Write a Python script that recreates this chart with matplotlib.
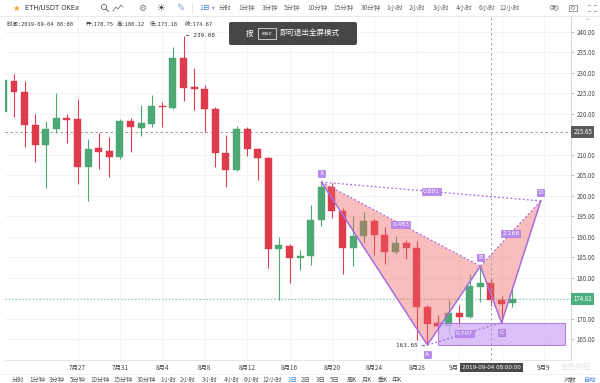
import matplotlib
matplotlib.use('Agg')
import matplotlib.pyplot as plt
from matplotlib.patches import Rectangle, FancyBboxPatch, Circle
from matplotlib.transforms import blended_transform_factory

plt.rcParams['font.family'] = ['Noto Sans CJK SC', 'DejaVu Sans']

# ---------------- data ----------------
day_labels = ['7月27', '7月31', '8月4', '8月8', '8月12', '8月16', '8月20', '8月24', '8月28', '9月9']
day_label_idx = [7, 11, 15, 19, 23, 27, 31, 35, 39, 51]
month_label, month_idx = '9月', 43
extra_grid_idx = [43, 47]

opens = [220.5, 228.1, 225.3, 217.4, 212.4, 216.3, 219.1, 218.7, 207.1, 211.8,
         210.9, 209.4, 218.4, 216.7, 217.6, 222.0, 221.5, 233.6, 226.5, 226.0,
         221.3, 210.4, 206.3, 216.3, 211.5, 209.2, 187.0, 187.9, 184.8, 185.4,
         194.1, 202.1, 196.4, 187.4, 190.2, 193.9, 190.6, 186.4, 188.5, 187.2,
         173.0, 169.0, 168.4, 171.5, 170.6, 177.9, 178.75, 174.6, 173.9]
highs = [229.5, 229.8, 228.1, 220.0, 218.3, 225.0, 220.0, 223.6, 213.8, 215.4,
         214.3, 218.7, 219.1, 222.2, 224.6, 223.0, 236.3, 239.08, 231.1, 227.1,
         221.6, 214.9, 217.1, 216.9, 211.6, 209.5, 190.0, 188.2, 186.8, 197.8,
         203.4, 203.1, 197.0, 195.0, 196.2, 194.5, 192.5, 190.2, 189.3, 189.1,
         173.3, 171.0, 174.6, 173.4, 180.9, 182.9, 180.12, 175.6, 177.9]
lows = [219.8, 219.3, 212.0, 208.4, 201.9, 215.4, 212.9, 202.9, 198.9, 206.5,
        204.6, 209.0, 210.8, 214.6, 216.8, 216.9, 221.3, 223.2, 221.0, 215.5,
        207.1, 202.3, 206.0, 209.8, 203.9, 182.4, 174.6, 178.7, 182.0, 183.2,
        192.7, 194.6, 181.0, 182.9, 188.5, 185.6, 183.5, 185.9, 184.6, 164.9,
        163.65, 166.5, 166.0, 168.1, 170.3, 174.1, 173.18, 169.1, 173.0]
closes = [228.3, 225.3, 217.4, 212.4, 216.3, 219.0, 218.6, 207.1, 211.5, 210.8,
          209.4, 218.4, 216.8, 217.7, 222.0, 221.6, 233.6, 226.3, 226.1, 221.2,
          210.4, 206.3, 216.3, 211.5, 209.2, 187.0, 188.0, 184.8, 185.4, 194.1,
          202.1, 196.4, 187.4, 190.2, 193.9, 190.5, 186.4, 188.5, 187.2, 173.0,
          168.8, 168.4, 171.4, 170.6, 178.0, 178.7, 174.67, 173.7, 174.82]

pattern_names = ['X', 'A', 'B', 'C', 'D']
pattern_idx = [30, 40, 45, 47, 50.7]
pattern_price = [203.4, 163.65, 182.9, 169.1, 198.8]
ratio_pairs = [(0, 2), (1, 3), (2, 4), (0, 4)]
ratio_values = ['0.483', '0.707', '2.168', '0.881']

zone_idx = [41, 53]
zone_price = [163.65, 169.1]

price_ticks = [165, 170, 180, 185, 190, 195, 200, 205, 210, 220, 225, 230, 235, 240]
grid_prices = list(range(165, 241, 5))

crosshair_idx = 46
crosshair_price = 215.65
last_price = 174.82
max_idx, max_price = 17, 239.08
min_idx, min_price = 40, 163.65

info_parts = ['时间:2019-09-04 08:00', '开:178.75', '高:180.12', '低:173.18', '收:174.67']
top_periods = ['分时', '1分钟', '3分钟', '5分钟', '10分钟', '15分钟', '30分钟',
               '1小时', '2小时', '3小时', '4小时', '6小时', '12小时']
bottom_periods = ['分时', '1分钟', '3分钟', '5分钟', '10分钟', '15分钟', '30分钟',
                  '1小时', '2小时', '3小时', '4小时', '6小时', '12小时',
                  '1日', '2日', '3日', '5日', '周K', '月K', '季K', '年K']

# ---------------- styles ----------------
RED = '#de3b4d'
GREEN = '#4da876'
PURPLE = '#a56ddf'
LABEL_BG = '#b889ec'

W, H = 600, 383
fig = plt.figure(figsize=(6, 3.83), dpi=100)
fig.patch.set_facecolor('white')

ax = fig.add_axes([5 / W, 23 / H, 566 / W, 344 / H])
ax.set_xlim(0.151, 53.55)
ax.set_ylim(160.0, 243.9)
ax.set_facecolor('white')

for s in ['top', 'left']:
    ax.spines[s].set_visible(False)
ax.spines['right'].set_color('#cfcfcf')
ax.spines['right'].set_linewidth(0.6)
ax.spines['bottom'].set_color('#e2e2e2')
ax.spines['bottom'].set_linewidth(0.6)

# grid
for p in grid_prices:
    ax.axhline(p, color='#f1f1f1', lw=0.6, zorder=0)
for i in day_label_idx + extra_grid_idx:
    ax.axvline(i, color='#f1f1f1', lw=0.6, zorder=0)

# ticks
ax.yaxis.tick_right()
ax.set_yticks(price_ticks)
ax.set_yticklabels([f'{p:.2f}' for p in price_ticks])
ax.tick_params(axis='y', length=2.5, width=0.5, color='#aaaaaa', labelsize=4.4,
               labelcolor='#444444', pad=1.5)
ax.set_xticks(day_label_idx)
ax.set_xticklabels(day_labels)
ax.tick_params(axis='x', length=0, labelsize=4.6, labelcolor='#444444', pad=3)

bx = blended_transform_factory(ax.transData, ax.transAxes)
ax.text(month_idx - 0.05, -0.0225, month_label, transform=bx, fontsize=4.6,
        color='#444444', ha='right', va='center', clip_on=False)

# candles
for i, (o, h, l, c) in enumerate(zip(opens, highs, lows, closes)):
    col = GREEN if c >= o else RED
    ax.vlines(i, l, h, color=col, lw=0.8, zorder=2)
    bottom = min(o, c)
    height = max(abs(c - o), 0.3)
    ax.bar(i, height, bottom=bottom, width=0.66, color=col, edgecolor=col,
           lw=0.3, zorder=2.5)

# horizontal reference lines
ax.axhline(crosshair_price, color='#8a8a8a', lw=0.6, ls=(0, (3, 3)), zorder=1.5)
ax.axhline(last_price, color='#86c9a4', lw=0.7, ls=(0, (1.5, 2)), zorder=1.5)
ax.axvline(crosshair_idx, color='#9a9a9a', lw=0.6, ls=(0, (3, 3)), zorder=6)

# harmonic pattern fills
ax.fill([pattern_idx[i] for i in (0, 1, 2)], [pattern_price[i] for i in (0, 1, 2)],
        color='#f06262', alpha=0.42, lw=0, zorder=3)
ax.fill([pattern_idx[i] for i in (2, 3, 4)], [pattern_price[i] for i in (2, 3, 4)],
        color='#f06262', alpha=0.42, lw=0, zorder=3)

# zone rectangle
ax.add_patch(Rectangle((zone_idx[0], zone_price[0]), zone_idx[1] - zone_idx[0],
                       zone_price[1] - zone_price[0], facecolor='#d2b0f6',
                       edgecolor=PURPLE, lw=0.8, alpha=0.8, zorder=3.2))

# solid legs
ax.plot(pattern_idx, pattern_price, color=PURPLE, lw=1.1, zorder=4,
        solid_joinstyle='miter')
# dotted ratio lines
for (a, b), val in zip(ratio_pairs, ratio_values):
    ax.plot([pattern_idx[a], pattern_idx[b]], [pattern_price[a], pattern_price[b]],
            color=PURPLE, lw=0.9, ls=(0, (1.5, 1.8)), zorder=4)
    mx = (pattern_idx[a] + pattern_idx[b]) / 2
    my = (pattern_price[a] + pattern_price[b]) / 2
    ax.text(mx, my, val, fontsize=4.3, color='white', ha='center', va='center',
            family=['DejaVu Sans'], zorder=7,
            bbox=dict(boxstyle='square,pad=0.18', fc=LABEL_BG, ec=PURPLE, lw=0.4))

# point labels
offsets = {'X': 6, 'A': -7, 'B': 6, 'C': -7, 'D': 6}
for n, xi, pr in zip(pattern_names, pattern_idx, pattern_price):
    ax.annotate(n, (xi, pr), xytext=(0, offsets[n]), textcoords='offset points',
                fontsize=4.3, color='white', ha='center', va='center',
                family=['DejaVu Sans'], zorder=7,
                bbox=dict(boxstyle='square,pad=0.18', fc=LABEL_BG, ec=PURPLE, lw=0.4))

# max / min annotations
ax.annotate(f'← {max_price:.2f}', (max_idx, max_price), xytext=(1.5, 0),
            textcoords='offset points', fontsize=4.3, color='#333333',
            ha='left', va='center', family=['DejaVu Sans Mono'], zorder=7)
ax.annotate(f'{min_price:.2f} →', (min_idx, min_price), xytext=(-2, 0),
            textcoords='offset points', fontsize=4.3, color='#333333',
            ha='right', va='center', family=['DejaVu Sans Mono'], zorder=7)

# right price boxes
bt = blended_transform_factory(ax.transAxes, ax.transData)
ax.text(1.004, crosshair_price, f'{crosshair_price:.2f}', transform=bt, fontsize=4.4,
        color='white', ha='left', va='center', clip_on=False, zorder=8,
        bbox=dict(boxstyle='square,pad=0.35', fc='#5b5b5b', ec='none'))
ax.text(1.004, last_price, f'{last_price:.2f}', transform=bt, fontsize=4.4,
        color='white', ha='left', va='center', clip_on=False, zorder=8,
        bbox=dict(boxstyle='square,pad=0.35', fc='#4caf7d', ec='none'))

# date box on crosshair
ax.text(crosshair_idx + 0.05, -0.022, '2019-09-04 08:00:00', transform=bx, fontsize=4.1,
        color='white', ha='center', va='center', clip_on=False, zorder=8,
        family=['DejaVu Sans'],
        bbox=dict(boxstyle='square,pad=0.3', fc='#4a4a4a', ec='none'))

# ---------------- UI overlay in pixel coordinates ----------------
ui = fig.add_axes([0, 0, 1, 1], zorder=10)
ui.set_xlim(0, W)
ui.set_ylim(H, 0)
ui.axis('off')
ui.patch.set_alpha(0)

# top toolbar
ui.plot([0, W], [15.5, 15.5], color='#e6e6e6', lw=0.6)
ui.text(16.5, 8, '★', fontsize=6, color='#f5a623', ha='center', va='center',
        family=['DejaVu Sans'])
ui.text(25, 8, 'ETH/USDT OKEx', fontsize=4.9, color='#333333', ha='left', va='center',
        family=['DejaVu Sans'])
ui.add_patch(Circle((104, 7), 2.6, fill=False, ec='#666666', lw=0.6))
ui.plot([106, 108.5], [9, 11.5], color='#666666', lw=0.7)
ui.plot([113, 116, 118, 121, 123], [11, 7, 9, 5, 7], color='#777777', lw=0.6)
ui.text(142, 8, '⚙', fontsize=6.5, color='#777777', ha='center', va='center',
        family=['DejaVu Sans'])
ui.text(161, 8, '☀', fontsize=7, color='#444444', ha='center', va='center',
        family=['DejaVu Sans'])
ui.text(180, 8, '✎', fontsize=7, color='#8aa0e0', ha='center', va='center',
        family=['DejaVu Sans'])
ui.plot([192, 192], [3, 13], color='#e0e0e0', lw=0.6)
ui.text(205, 8, '1日', fontsize=4.9, color='#3b7ddd', ha='center', va='center')
ui.text(213.5, 8, '▾', fontsize=4, color='#999999', ha='center', va='center',
        family=['DejaVu Sans'])
top_x = [225, 247, 270, 292, 317.5, 344, 371, 395, 417, 441, 464, 487, 510]
for s, x in zip(top_periods, top_x):
    ui.text(x, 8, s, fontsize=4.7, color='#666666', ha='center', va='center')
ui.text(555, 8, '0秒', fontsize=4.7, color='#666666', ha='center', va='center')
ui.add_patch(Rectangle((569, 5), 8, 6, fill=False, ec='#777777', lw=0.5))
ui.add_patch(Circle((573, 8), 1.5, fill=False, ec='#777777', lw=0.5))
for (cx, cy) in [(589, 5), (595, 5), (589, 11), (595, 11)]:
    ui.plot([cx - 0.8, cx + 0.8], [cy, cy], color='#777777', lw=0.5)

# info row
info_x = [7, 86, 117, 150, 185]
for s, x in zip(info_parts, info_x):
    ui.text(x, 24, s, fontsize=3.9, color='#333333', ha='left', va='center',
            family=['DejaVu Sans Mono', 'Noto Sans CJK SC'])
ui.text(587, 21, '^', fontsize=4.5, color='#888888', ha='center', va='center',
        family=['DejaVu Sans'])

# tooltip overlay
ui.add_patch(FancyBboxPatch((229, 22), 128, 23, boxstyle='round,pad=0,rounding_size=2',
                            fc='#3c3c3c', ec='none', alpha=0.95))
ui.text(250, 33.5, '按', fontsize=5.4, color='white', ha='center', va='center')
ui.add_patch(Rectangle((258, 28), 17.5, 11, fill=False, ec='#dddddd', lw=0.6))
ui.text(266.7, 33.5, 'esc', fontsize=4.6, color='white', ha='center', va='center',
        family=['DejaVu Sans'])
ui.text(280, 33.5, '即可退出全屏模式', fontsize=5.4, color='white', ha='left', va='center')

# watermark
ui.text(576, 366.5, '金色财经', fontsize=5.5, color='#e6e6e6', ha='center', va='center', zorder=0)

# bottom toolbar
ui.plot([0, W], [373.5, 373.5], color='#eeeeee', lw=0.5)
bot_x = [18, 37, 57, 78, 100, 123, 147, 168, 188, 210, 232, 252, 272,
         292, 306, 321, 335, 352, 367, 383, 397]
for s, x in zip(bottom_periods, bot_x):
    ui.text(x, 379.5, s, fontsize=4.5, color='#3b7ddd' if s == '1日' else '#555555',
            ha='center', va='center')
ui.text(570, 379.5, '对数', fontsize=4.5, color='#555555', ha='center', va='center')
ui.text(590, 379.5, '自动', fontsize=4.5, color='#3b7ddd', ha='center', va='center')

fig.savefig('out.png', dpi=100, facecolor='white')
